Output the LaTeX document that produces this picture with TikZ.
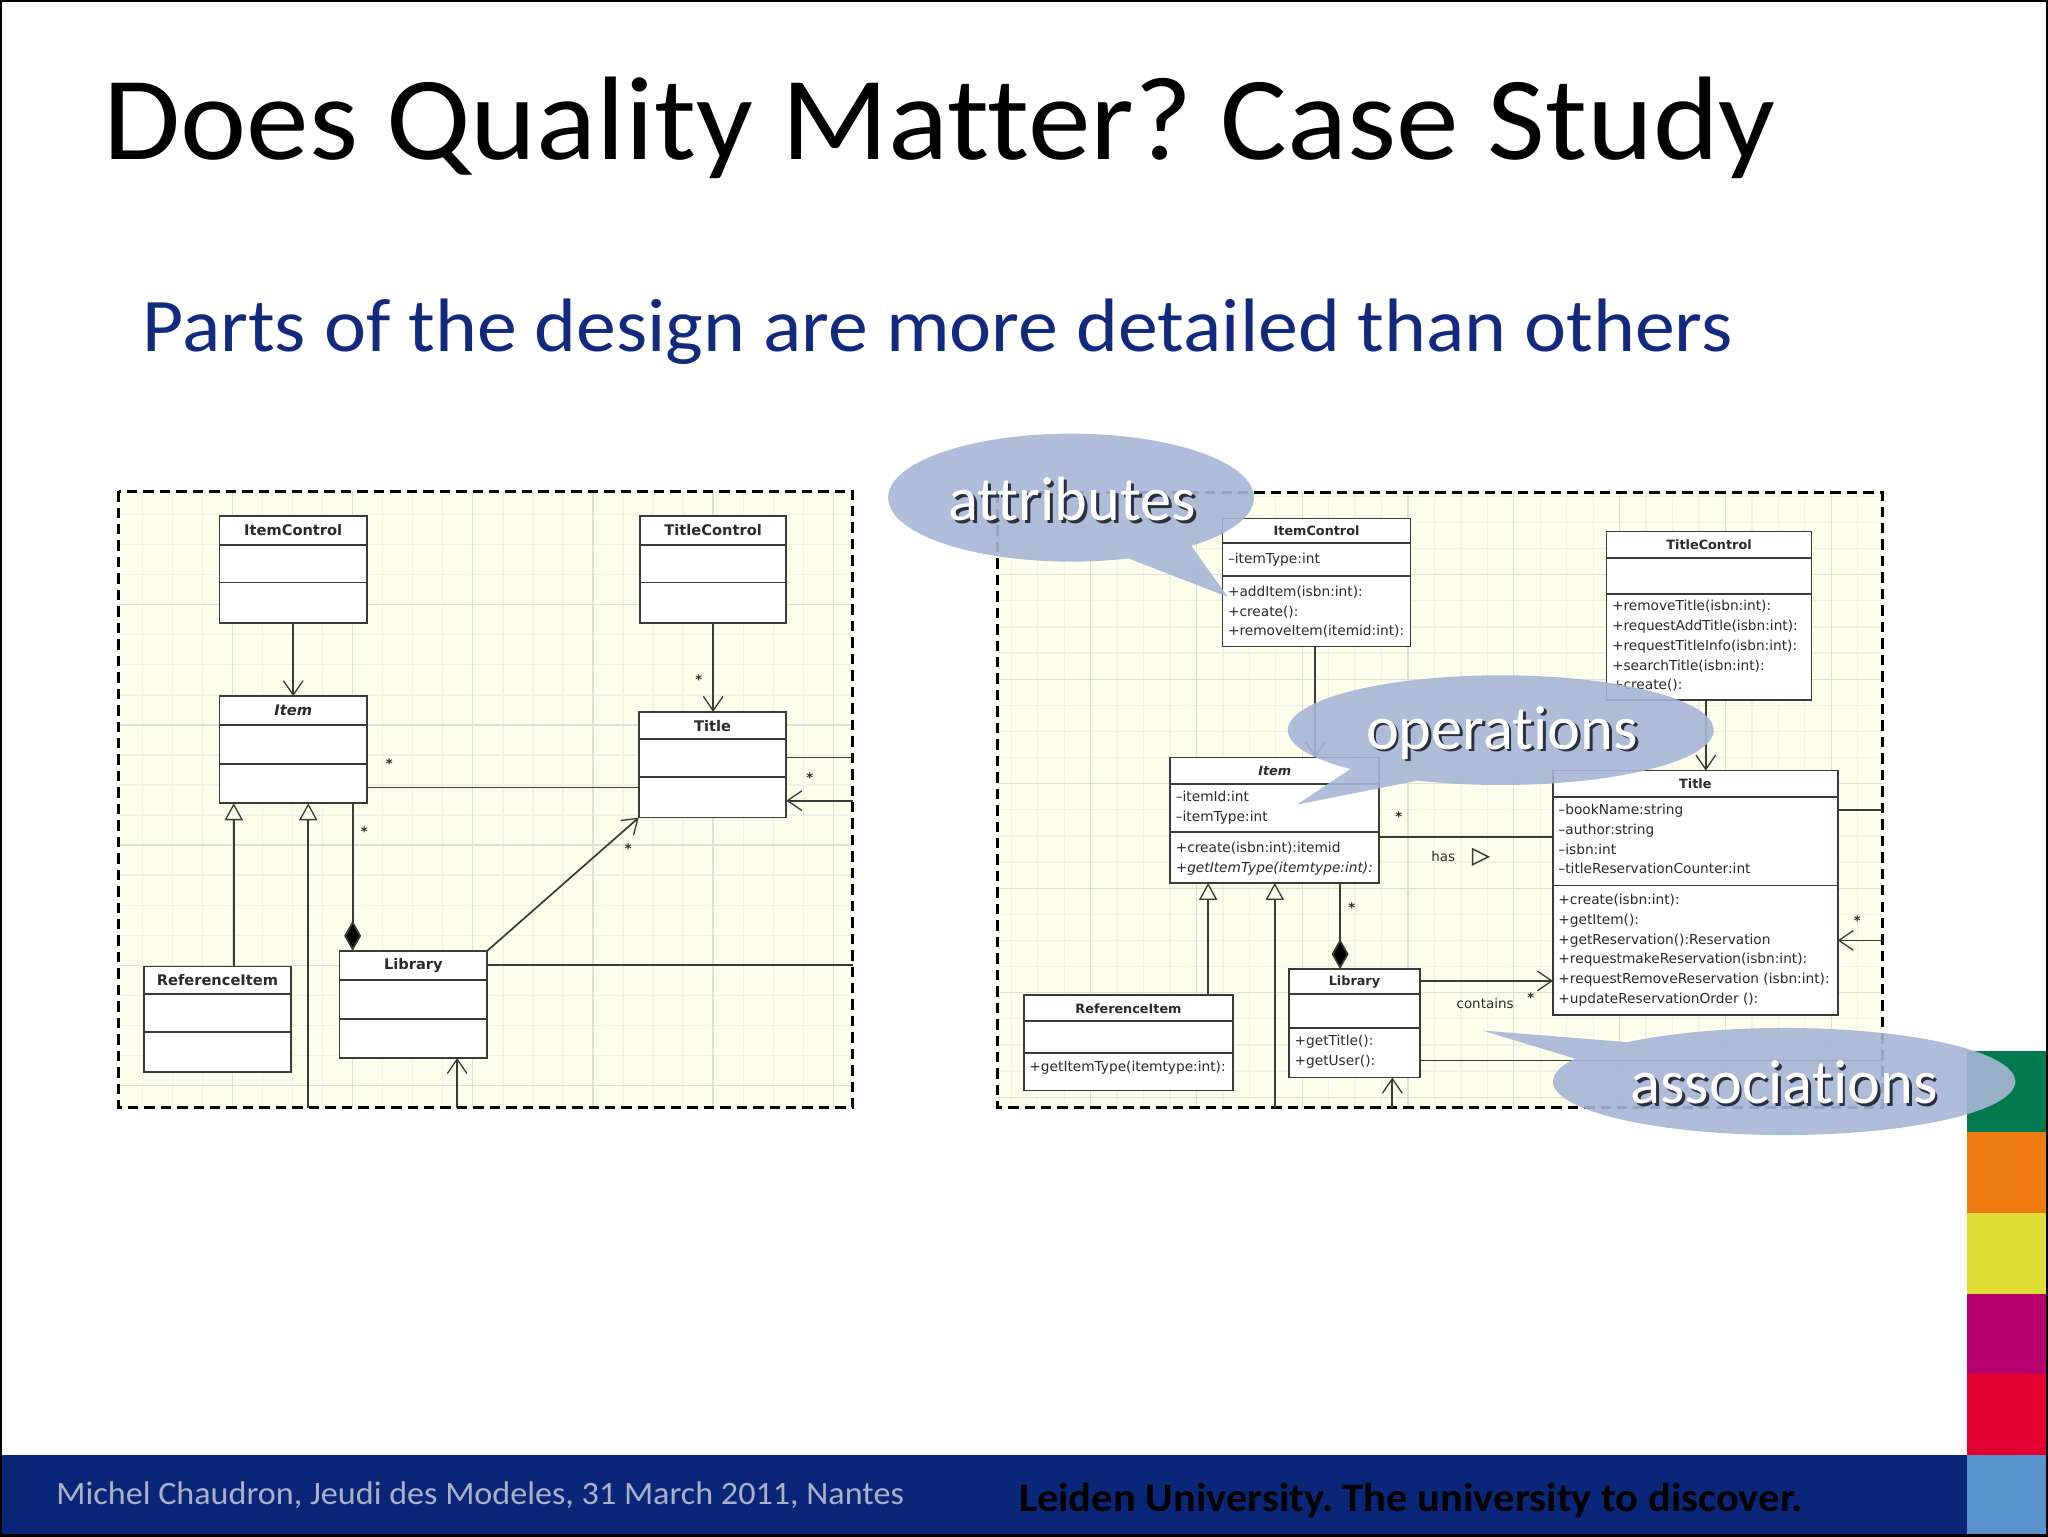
\documentclass[tikz,border=0pt]{standalone}
\usepackage{fontspec}
\setmainfont{Carlito}[Ligatures=NoCommon]
\newfontfamily\titlefont{Carlito}[FakeStretch=1.055,Ligatures=NoCommon]
\newfontfamily\subfont{Carlito}[FakeStretch=1.053,Ligatures=NoCommon]
\newfontfamily\footfont{Carlito}[FakeStretch=1.045,Ligatures=NoCommon]
\newfontfamily\footbfont{Carlito Bold}[FakeStretch=1.05,Ligatures=NoCommon]
\newfontfamily\umlfont{DejaVu Sans}
\usetikzlibrary{arrows.meta,calc}
\definecolor{panelbg}{HTML}{FDFDEB}
\definecolor{gridminor}{HTML}{F1F2E3}
\definecolor{gridmajor}{HTML}{DEE0D3}
\definecolor{umlline}{HTML}{3A3A36}
\definecolor{umltext}{HTML}{2A2A2A}
\definecolor{callout}{HTML}{A7B6D6}
\definecolor{txtshadow}{HTML}{2A3040}
\definecolor{subtitleblue}{HTML}{12297F}
\definecolor{footblue}{HTML}{0A2678}
\definecolor{footgrey}{HTML}{A9B1C9}
\frenchspacing
\newcommand\shtext[1]{\leavevmode\rlap{\kern2pt\raisebox{-2.2pt}{\color{txtshadow}#1}}\color{white}#1}
\newcommand\classbox[9]{%
  \pgfmathsetmacro\cbw{#4-#2}\pgfmathsetmacro\cbh{#5-#3}%
  \pgfmathsetmacro\cbx{(#2+#4)/2}\pgfmathsetmacro\cby{(#3+#5)/2}%
  \pgfmathsetmacro\cbt{(#3+#6)/2}%
  \node[umlbox,minimum width=\cbw pt,minimum height=\cbh pt] (#1) at (\cbx,\cby) {};
  \draw[umlrule] (#2,#6) -- (#4,#6);
  \draw[umlrule] (#2,#7) -- (#4,#7);
  \node[#9] (#1 head) at (\cbx,\cbt) {#8};
}
\newcommand\balloonpath[7]{% cx cy rx ry t0 t1 tip
  \fill[balloon] plot[domain=#5:#6,samples=180,variable=\t] ({#1+#3*cos(\t)},{#2+#4*sin(\t)}) -- #7 -- cycle;
}
\tikzset{
  x=1pt,y=-1pt,
  umlbox/.style={draw=umlline,fill=white,line width=1.3pt,inner sep=0pt,outer sep=0pt},
  umlrule/.style={draw=umlline,line width=1.4pt},
  conn/.style={draw=umlline,line width=1.3pt},
  openarrow/.style={conn,-{Straight Barb[length=11pt,width=15pt,line width=1pt]}},
  genarrow/.style={conn,-{Triangle[open,length=13pt,width=14pt,line width=1pt,fill=panelbg]}},
  comparrow/.style={conn,-{Diamond[length=23pt,width=13pt,fill=black]}},
  headL/.style={font=\umlfont\bfseries\fontsize{11.2}{13}\selectfont,text=umltext,inner sep=0pt},
  headLi/.style={font=\umlfont\bfseries\itshape\fontsize{11.2}{13}\selectfont,text=umltext,inner sep=0pt},
  headR/.style={font=\umlfont\bfseries\fontsize{9.8}{12}\selectfont,text=umltext,inner sep=0pt},
  headRi/.style={font=\umlfont\bfseries\itshape\fontsize{9.8}{12}\selectfont,text=umltext,inner sep=0pt},
  members/.style={font=\umlfont\fontsize{10.5}{15.1}\selectfont,text=umltext,inner sep=0pt,anchor=north west,align=left},
  small/.style={font=\umlfont\fontsize{10.3}{12}\selectfont,text=umltext,inner sep=0pt},
  star/.style={font=\umlfont\bfseries\fontsize{10}{10}\selectfont,text=umltext,inner sep=0pt},
  balloon/.style={fill=callout,opacity=0.9,draw=none},
  ballooninfo/.style={font=\fontsize{47.8}{50}\selectfont,inner sep=0pt},
  dashframe/.style={draw=black,line width=2.3pt,dash pattern=on 8pt off 4.6pt},
  band/.style={draw=none,minimum width=62pt,minimum height=62pt,inner sep=0pt,outer sep=0pt},
}
\begin{document}
\begin{tikzpicture}
\useasboundingbox (0,0) rectangle (1568,1176);
\fill[white] (0,0) rectangle (1568,1176);

% footer and colour bands
\fill[footblue] (0,1114) rectangle (1506,1176);
\node[band,fill={rgb,255:red,0;green,122;blue,78}] (b1) at (1537,836) {};
\node[band,fill={rgb,255:red,238;green,125;blue,17}] (b2) at (1537,898) {};
\node[band,fill={rgb,255:red,223;green,220;blue,54}] (b3) at (1537,960) {};
\node[band,fill={rgb,255:red,181;green,0;blue,107}] (b4) at (1537,1021.5) {};
\node[band,fill={rgb,255:red,226;green,0;blue,47}] (b5) at (1537,1083) {};
\node[band,fill={rgb,255:red,90;green,146;blue,204}] (b6) at (1537,1145) {};
\draw[black,line width=3pt] (0,0) rectangle (1568,1176);

% titles
\node[anchor=base west,inner sep=0pt,font=\titlefont\fontsize{91}{92}\selectfont] (title) at (79,122) {Does Quality Matter? Case Study};
\node[anchor=base west,inner sep=0pt,text=subtitleblue,font=\subfont\fontsize{58}{60}\selectfont] (subtitle) at (109,269) {Parts of the design are more detailed than others};
\node[anchor=base west,inner sep=0pt,text=footgrey,font=\footfont\fontsize{25}{26}\selectfont] (footl) at (43,1152) {Michel Chaudron, Jeudi des Modeles, 31 March 2011, Nantes};
\node[anchor=base west,inner sep=0pt,text=black,font=\footbfont\fontsize{31}{32}\selectfont] (footr) at (780,1157) {Leiden University. The university to discover.};

%%%%% LEFT PANEL
\fill[panelbg] (91,376) rectangle (653,848);
\begin{scope}
\clip (91,376) rectangle (653,848);
\foreach \i in {0,...,24} \draw[gridminor,line width=1pt] ({86+23*\i},376) -- ({86+23*\i},848);
\foreach \i in {-1,...,20} \draw[gridminor,line width=1pt] (91,{417+23*\i}) -- (653,{417+23*\i});
\foreach \i in {0,...,6} \draw[gridmajor,line width=1pt] ({86+92*\i},376) -- ({86+92*\i},848);
\foreach \i in {0,...,4} \draw[gridmajor,line width=1pt] (91,{463+92*\i}) -- (653,{463+92*\i});
\end{scope}
\draw[dashframe] (91,376) rectangle (653,848);

\classbox{ic}{168}{395}{281}{477}{417}{446}{ItemControl}{headL}
\classbox{tc}{490}{395}{602}{477}{417}{446}{TitleControl}{headL}
\classbox{it}{168}{533}{281}{615}{555}{585}{Item}{headLi}
\classbox{ti}{489}{545}{602}{626}{566}{595}{Title}{headL}
\classbox{ri}{110}{740}{223}{821}{761}{790}{ReferenceItem}{headL}
\classbox{li}{260}{728}{373}{810}{750}{780}{Library}{headL}

\coordinate (lg1) at (179,848);
\coordinate (lg2) at (236,848);
\coordinate (lc) at (270,848);
\coordinate (lb) at (350,848);
\coordinate (ltr1) at (653,580);
\coordinate (ltr2) at (653,613);
\coordinate (lli) at (653,739);
\coordinate (lit) at (489,603);

\draw[openarrow] (ic.south) -- (it.north);
\draw[openarrow] (tc.south) -- (tc.south |- ti.north);
\draw[conn] (it.south east |- lit) -- (lit);
\draw[comparrow] (lc |- it.south) -- (lc |- li.north);
\draw[genarrow] (lg1 |- ri.north) -- (lg1 |- it.south);
\draw[genarrow] (lg2) -- (lg2 |- it.south);
\draw[openarrow] (li.north east) -- (ti.south west);
\draw[conn] (ti.east |- ltr1) -- (ltr1);
\draw[openarrow] (ltr2) -- (ltr2 -| ti.east);
\draw[conn] (li.east |- lli) -- (lli);
\draw[openarrow] (lb) -- (lb |- li.south);

\node[star] (ls1) at (535,520) {*};
\node[star] (ls2) at (298,585) {*};
\node[star] (ls3) at (279,637) {*};
\node[star] (ls4) at (481,650) {*};
\node[star] (ls5) at (620,595) {*};

%%%%% RIGHT PANEL
\fill[panelbg] (764,377) rectangle (1441,848);
\begin{scope}
\clip (764,377) rectangle (1441,848);
\foreach \i in {0,...,34} \draw[gridminor,line width=1pt] ({754+20.25*\i},377) -- ({754+20.25*\i},848);
\foreach \i in {0,...,24} \draw[gridminor,line width=1pt] (764,{380+20*\i}) -- (1441,{380+20*\i});
\foreach \i in {0,...,8} \draw[gridmajor,line width=1pt] ({754+81*\i},377) -- ({754+81*\i},848);
\foreach \i in {0,...,5} \draw[gridmajor,line width=1pt] (764,{440+80*\i}) -- (1441,{440+80*\i});
\end{scope}
\draw[dashframe] (764,377) rectangle (1441,848);

\classbox{rc}{936}{397}{1080}{495}{416}{441}{ItemControl}{headR}
\classbox{rt}{1230}{407}{1387}{536}{427}{455}{TitleControl}{headR}
\classbox{rit}{896}{580}{1056}{676}{600}{637}{Item}{headRi}
\classbox{rti}{1189}{590}{1407}{777}{610}{678}{Title}{headR}
\classbox{rr}{784}{762}{944}{835}{782}{806}{ReferenceItem}{headR}
\classbox{rl}{987}{742}{1087}{825}{761}{787}{Library}{headR}

\node[members] (rc a) at (940,423.5) {–itemType:int};
\node[members] (rc o) at (940,448.5) {+addItem(isbn:int):\\+create():\\+removeItem(itemid:int):};
\node[members] (rt o) at (1234,459.5) {+removeTitle(isbn:int):\\+requestAddTitle(isbn:int):\\+requestTitleInfo(isbn:int):\\+searchTitle(isbn:int):\\+create():};
\node[members] (rit a) at (900,605.5) {–itemId:int\\–itemType:int};
\node[members] (rit o) at (900,644.5) {+create(isbn:int):itemid\\\textit{+getItemType(itemtype:int):}};
\node[members] (rti a) at (1193,615.5) {–bookName:string\\–author:string\\–isbn:int\\–titleReservationCounter:int};
\node[members] (rti o) at (1193,684.5) {+create(isbn:int):\\+getItem():\\+getReservation():Reservation\\+requestmakeReservation(isbn:int):\\+requestRemoveReservation (isbn:int):\\+updateReservationOrder ():};
\node[members] (rr o) at (788,812.5) {+getItemType(itemtype:int):};
\node[members] (rl o) at (991,792.5) {+getTitle():\\+getUser():};

\coordinate (rg1) at (925,848);
\coordinate (rg2) at (976,848);
\coordinate (rcp) at (1026,848);
\coordinate (ric) at (1007,848);
\coordinate (rtc) at (1306,848);
\coordinate (rb) at (1066,848);
\coordinate (rh) at (1189,641);
\coordinate (rcn) at (1189,751);
\coordinate (rlr) at (1441,812);
\coordinate (rtr1) at (1441,620);
\coordinate (rtr2) at (1441,720);

\draw[openarrow] (ric |- rc.south) -- (ric |- rit.north);
\draw[openarrow] (rtc |- rt.south) -- (rtc |- rti.north);
\draw[conn] (rit.east |- rh) -- (rh);
\draw[comparrow] (rcp |- rit.south) -- (rcp |- rl.north);
\draw[genarrow] (rg1 |- rr.north) -- (rg1 |- rit.south);
\draw[genarrow] (rg2) -- (rg2 |- rit.south);
\draw[openarrow] (rl.east |- rcn) -- (rcn);
\draw[conn] (rl.east |- rlr) -- (rlr);
\draw[conn] (rti.east |- rtr1) -- (rtr1);
\draw[openarrow] (rtr2) -- (rtr2 -| rti.east);
\draw[openarrow] (rb) -- (rb |- rl.south);
\draw[draw=umlline,line width=1.1pt] (1127.5,650) -- (1139.5,656) -- (1127.5,662) -- cycle;

\node[small] (rhaslbl) at (1105,656) {has};
\node[small] (rcont) at (1137,768) {contains};
\node[star] (rs1) at (1071,625) {*};
\node[star] (rs2) at (1035,695) {*};
\node[star] (rs3) at (1172,764) {*};
\node[star] (rs4) at (1422,705) {*};

%%%%% CALLOUTS
\balloonpath{820}{381}{140}{49}{-288.3}{48.9}{(940,457)}
\node[ballooninfo] (cattr) at (821,383) {\shtext{attributes}};

\balloonpath{1149}{559}{163}{42}{134.9}{473}{(993,616)}
\node[ballooninfo] (cop) at (1150,562) {\shtext{operations}};

\balloonpath{1366}{828}{177}{41}{227.3}{565.3}{(1135,789)}
\node[ballooninfo] (cas) at (1366,830) {\shtext{associations}};
\end{tikzpicture}
\end{document}
